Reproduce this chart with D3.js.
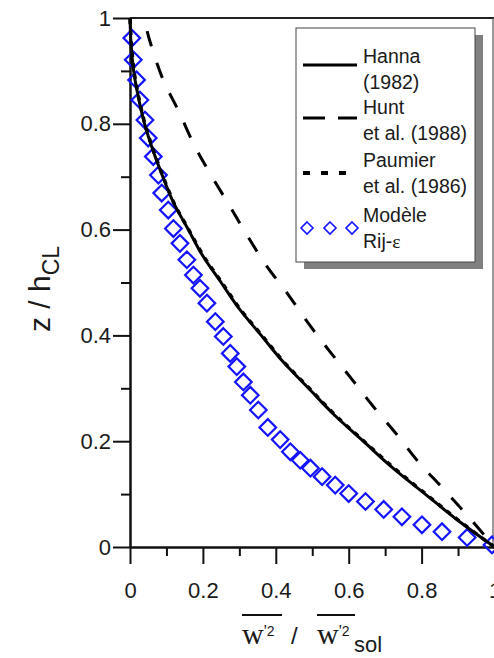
<!DOCTYPE html>
<html>
<head>
<meta charset="utf-8">
<script src="https://cdn.jsdelivr.net/npm/d3@7"></script>
<style>
  html, body { margin: 0; padding: 0; background: #fff; }
  svg { display: block; }
  text { font-family: Arial, "Liberation Sans", sans-serif; fill: #1a1a1a; }
</style>
</head>
<body>
<svg id="chart" width="494" height="658"></svg>
<script>
// Vertical profiles of normalised vertical velocity variance
// x: w'^2 / w'^2_sol, z: z / h_CL

// Hanna (1982)
const hannaZ = [0, 0.05, 0.10, 0.15, 0.20, 0.25, 0.30, 0.35, 0.40, 0.45, 0.50, 0.55, 0.60, 0.65, 0.70, 0.75, 0.80, 0.85, 0.90, 0.95, 1.0];
const hannaX = [1.0, 0.90, 0.81, 0.72, 0.64, 0.56, 0.49, 0.42, 0.36, 0.30, 0.25, 0.20, 0.16, 0.12, 0.09, 0.063, 0.04, 0.023, 0.01, 0.003, 0];

// Paumier et al. (1986)
const paumierZ = [0, 0.05, 0.10, 0.15, 0.20, 0.25, 0.30, 0.35, 0.40, 0.45, 0.50, 0.55, 0.60, 0.65, 0.70, 0.75, 0.80, 0.85, 0.90, 0.95, 1.0];
const paumierX = [1.0, 0.902, 0.812, 0.723, 0.642, 0.562, 0.492, 0.422, 0.362, 0.302, 0.252, 0.202, 0.161, 0.121, 0.091, 0.064, 0.041, 0.024, 0.011, 0.004, 0];

// Hunt et al. (1988)
const huntZ = [0, 0.064, 0.112, 0.161, 0.212, 0.265, 0.316, 0.369, 0.423, 0.480, 0.530, 0.586, 0.643, 0.700, 0.756, 0.826, 0.883, 0.955, 0.975];
const huntX = [1.0, 0.920, 0.857, 0.791, 0.733, 0.668, 0.610, 0.549, 0.489, 0.431, 0.376, 0.324, 0.275, 0.225, 0.179, 0.132, 0.091, 0.055, 0.047];

// Modèle Rij-ε
const modelX = [0.005, 0.009, 0.018, 0.027, 0.041, 0.050, 0.064, 0.078, 0.087, 0.105, 0.119, 0.137, 0.156, 0.174, 0.192, 0.211,
                0.234, 0.256, 0.275, 0.293, 0.311, 0.330, 0.352, 0.378, 0.412, 0.440, 0.467, 0.495, 0.527, 0.563, 0.600,
                0.646, 0.696, 0.746, 0.801, 0.856, 0.925, 0.993];
const modelZ = [0.962, 0.921, 0.883, 0.845, 0.807, 0.773, 0.738, 0.703, 0.669, 0.637, 0.602, 0.574, 0.543, 0.514, 0.489, 0.461,
                0.426, 0.398, 0.366, 0.341, 0.312, 0.287, 0.259, 0.226, 0.203, 0.180, 0.164, 0.149, 0.133, 0.117, 0.101,
                0.086, 0.071, 0.057, 0.042, 0.029, 0.018, 0.004];

const majorTicks = [0, 0.2, 0.4, 0.6, 0.8, 1];
const minorTicks = [0.1, 0.3, 0.5, 0.7, 0.9];

const legendItems = [
  { lines: ["Hanna", "(1982)"], kind: "solid" },
  { lines: ["Hunt", "et al. (1988)"], kind: "dash" },
  { lines: ["Paumier", "et al. (1986)"], kind: "dot" },
  { lines: ["Modèle", "Rij-ε"], kind: "diamond" }
];

const BLUE = "#1414ff";
const svg = d3.select("#chart");

const x = d3.scaleLinear().domain([0, 1]).range([130, 494.5]);
const y = d3.scaleLinear().domain([0, 1]).range([547, 18]);

// frame: top edge and right edge
svg.append("line").attr("x1", x(0)).attr("x2", 494).attr("y1", y(1)).attr("y2", y(1))
  .attr("stroke", "#222").attr("stroke-width", 2);
svg.append("line").attr("x1", 493).attr("x2", 493).attr("y1", y(1)).attr("y2", y(0))
  .attr("stroke", "#555").attr("stroke-width", 1.2);

function styleAxis(g) {
  g.selectAll("path.domain").attr("stroke", "#111").attr("stroke-width", 2);
  g.selectAll(".tick line").attr("stroke", "#111").attr("stroke-width", 2);
  g.selectAll(".tick text").attr("font-size", 22).attr("fill", "#222")
    .attr("font-family", "Arial, 'Liberation Sans', sans-serif");
}

const fmt = d => d3.format("~g")(d);

// minor ticks
svg.append("g").attr("transform", `translate(0,${y(0)})`)
  .call(d3.axisBottom(x).tickValues(minorTicks).tickSize(9).tickSizeOuter(0).tickFormat(""))
  .call(styleAxis);
svg.append("g").attr("transform", `translate(${x(0)},0)`)
  .call(d3.axisLeft(y).tickValues(minorTicks).tickSize(9).tickSizeOuter(0).tickFormat(""))
  .call(styleAxis);

// major ticks with labels
svg.append("g").attr("transform", `translate(0,${y(0)})`)
  .call(d3.axisBottom(x).tickValues(majorTicks).tickSize(17).tickSizeOuter(0).tickPadding(18).tickFormat(fmt))
  .call(styleAxis);
svg.append("g").attr("transform", `translate(${x(0)},0)`)
  .call(d3.axisLeft(y).tickValues(majorTicks).tickSize(17).tickSizeOuter(0).tickPadding(2).tickFormat(fmt))
  .call(styleAxis);

// model points (diamonds)
const diamond = r => `M0,${-r}L${r},0L0,${r}L${-r},0Z`;
svg.append("g").selectAll("path")
  .data(modelX.map((v, i) => [v, modelZ[i]]))
  .join("path")
  .attr("transform", d => `translate(${x(d[0])},${y(d[1])})`)
  .attr("d", diamond(8.3))
  .attr("fill", "none").attr("stroke", BLUE).attr("stroke-width", 2.2);

// reference curves
const line = d3.line().x(d => x(d[0])).y(d => y(d[1])).curve(d3.curveCatmullRom);
const pts = (xs, zs) => xs.map((v, i) => [v, zs[i]]);

svg.append("path").datum(pts(hannaX, hannaZ)).attr("d", line)
  .attr("fill", "none").attr("stroke", "#000").attr("stroke-width", 3);
svg.append("path").datum(pts(paumierX, paumierZ)).attr("d", line)
  .attr("fill", "none").attr("stroke", "#000").attr("stroke-width", 3.5)
  .attr("stroke-dasharray", "5,6");
svg.append("path").datum(pts(huntX, huntZ).reverse()).attr("d", line)
  .attr("fill", "none").attr("stroke", "#000").attr("stroke-width", 3)
  .attr("stroke-dasharray", "16,17");

// legend box with drop shadow
const lg = svg.append("g");
lg.append("rect").attr("x", 304).attr("y", 35).attr("width", 179).attr("height", 234).attr("fill", "#808080");
lg.append("rect").attr("x", 296).attr("y", 28).attr("width", 179).attr("height", 234)
  .attr("fill", "#fff").attr("stroke", "#444").attr("stroke-width", 1);

const sampleY = [65, 118, 173, 228];
const textY = [63, 114, 167, 222];
legendItems.forEach((it, i) => {
  const sy = sampleY[i];
  if (it.kind === "diamond") {
    [307, 330, 352].forEach(cx => {
      lg.append("path").attr("transform", `translate(${cx},${sy})`).attr("d", diamond(6))
        .attr("fill", "none").attr("stroke", BLUE).attr("stroke-width", 1.6);
    });
  } else {
    const l = lg.append("line").attr("x1", 303).attr("x2", 357).attr("y1", sy).attr("y2", sy)
      .attr("stroke", "#000").attr("stroke-width", it.kind === "dot" ? 4 : 3);
    if (it.kind === "dash") l.attr("stroke-dasharray", "22,13");
    if (it.kind === "dot") l.attr("stroke-dasharray", "7,11");
  }
  it.lines.forEach((t, j) => {
    const tx = lg.append("text").attr("x", 363).attr("y", textY[i] + j * 26).attr("font-size", 19.5);
    if (t.endsWith("ε")) {
      tx.append("tspan").text(t.slice(0, -1));
      tx.append("tspan").attr("font-family", "'Liberation Serif', 'DejaVu Serif', serif").text("ε");
    } else {
      tx.text(t);
    }
  });
});

// y axis title: z / h_CL
const yt = svg.append("text").attr("transform", "translate(50,332) rotate(-90)").attr("font-size", 30);
yt.append("tspan").text("z / h");
yt.append("tspan").attr("font-size", 23).attr("dy", 9).text("CL");

// x axis title: overline(w'2) / overline(w'2)_sol
const serif = "'Liberation Serif', 'Times New Roman', serif";
function wTerm(x0) {
  const t = svg.append("text").attr("x", x0).attr("y", 644);
  t.append("tspan").attr("font-family", serif).attr("font-size", 30).text("w");
  t.append("tspan").attr("font-family", serif).attr("font-size", 17).attr("dy", -8).text("'");
  t.append("tspan").attr("font-size", 14).text("2");
  return t;
}
wTerm(242);
wTerm(317);
svg.append("line").attr("x1", 242).attr("x2", 282).attr("y1", 615).attr("y2", 615).attr("stroke", "#111").attr("stroke-width", 2);
svg.append("line").attr("x1", 317).attr("x2", 355).attr("y1", 615).attr("y2", 615).attr("stroke", "#111").attr("stroke-width", 2);
svg.append("text").attr("x", 291).attr("y", 644).attr("font-size", 24).text("/");
svg.append("text").attr("x", 354).attr("y", 652).attr("font-size", 22).text("sol");
</script>
</body>
</html>
